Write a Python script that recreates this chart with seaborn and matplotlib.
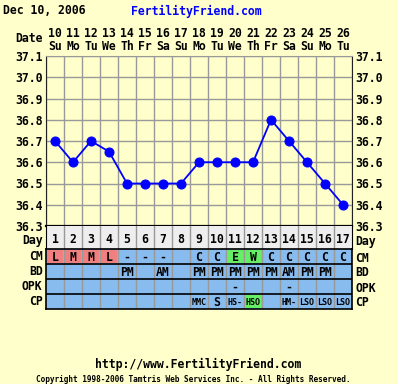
import numpy as np
import matplotlib
matplotlib.use("Agg")
import matplotlib.pyplot as plt
from matplotlib.colors import ListedColormap
import seaborn as sns

# chart data
dates = [10, 11, 12, 13, 14, 15, 16, 17, 18, 19, 20, 21, 22, 23, 24, 25, 26]
weekdays = ["Su", "Mo", "Tu", "We", "Th", "Fr", "Sa", "Su", "Mo",
            "Tu", "We", "Th", "Fr", "Sa", "Su", "Mo", "Tu"]
cycle_days = list(range(1, 18))
temps = [36.7, 36.6, 36.7, 36.65, 36.5, 36.5, 36.5, 36.5, 36.6,
         36.6, 36.6, 36.6, 36.8, 36.7, 36.6, 36.5, 36.4]
temp_ticks = [36.3, 36.4, 36.5, 36.6, 36.7, 36.8, 36.9, 37.0, 37.1]

row_names = ["CM", "BD", "OPK", "CP"]
cm = ["L", "M", "M", "L", "-", "-", "-", "", "C", "C", "E", "W", "C", "C", "C", "C", "C"]
bd = ["", "", "", "", "PM", "", "AM", "", "PM", "PM", "PM", "PM", "PM", "AM", "PM", "PM", ""]
opk = ["", "", "", "", "", "", "", "", "", "", "-", "", "", "-", "", "", ""]
cp = ["", "", "", "", "", "", "", "", "MMC", "S", "HS-", "HSO", "", "HM-", "LSO", "LSO", "LSO"]
# highlight: 0 = plain, 1 = red, 2 = green
cm_flag = [1, 1, 1, 1, 0, 0, 0, 0, 0, 0, 2, 2, 0, 0, 0, 0, 0]
cp_flag = [0, 0, 0, 0, 0, 0, 0, 0, 0, 0, 0, 2, 0, 0, 0, 0, 0]

BG = "#FFFFCC"
BLUE_CELL = "#88BBEE"
RED_CELL = "#F08080"
GREEN_CELL = "#66EE66"
GRID = "#999999"

plt.rcParams["font.family"] = "DejaVu Sans Mono"
plt.rcParams["font.weight"] = "bold"
FS = 8.3

W, H = 398, 384
fig = plt.figure(figsize=(W / 100, H / 100), dpi=100, facecolor=BG)


def fx(px):
    return px / W


def fy(py):
    return 1 - py / H


# temperature chart
ax = fig.add_axes([fx(46), fy(226), fx(306), 170 / H])
ax.set_facecolor(BG)
sns.lineplot(x=cycle_days, y=temps, ax=ax, color="#0000FF", linewidth=1.3,
             marker="o", markersize=6.5, markeredgecolor="#0000FF")
ax.set_xlim(0.5, 17.5)
ax.set_ylim(36.3, 37.1)
ax.set_xticks(np.arange(0.5, 18, 1))
ax.set_xticklabels([])
ax.set_yticks(temp_ticks)
ax.set_yticklabels([f"{t:.1f}" for t in temp_ticks])
ax.grid(True, color=GRID, linewidth=1)
ax.set_axisbelow(True)
ax.tick_params(axis="both", length=0)
ax.tick_params(axis="y", labelright=True, labelsize=FS, pad=2.5)
ax.set_xlabel("")
ax.set_ylabel("")
for side in ["left", "right"]:
    ax.spines[side].set_color("#222222")
ax.spines["top"].set_color(GRID)
ax.spines["bottom"].set_color("black")
ax.spines["bottom"].set_linewidth(1.6)

xt = ax.get_xaxis_transform()
for d, dt, wd in zip(cycle_days, dates, weekdays):
    ax.text(d, 1.135, str(dt), transform=xt, ha="center", va="center", fontsize=FS)
    ax.text(d, 1.058, wd, transform=xt, ha="center", va="center", fontsize=FS)

fig.text(fx(43), fy(39), "Date", ha="right", va="center", fontsize=FS)
fig.text(fx(3), fy(11), "Dec 10, 2006", ha="left", va="center", fontsize=FS)
fig.text(fx(131), fy(11), "FertilityFriend.com", ha="left", va="center",
         fontsize=FS, color="#0000FF")

# cycle day row
ax_day = fig.add_axes([fx(46), fy(249), fx(306), 23 / H])
sns.heatmap(np.zeros((1, 17)), ax=ax_day, cmap=ListedColormap(["#EEEEEE"]),
            cbar=False, xticklabels=False, yticklabels=["Day"])
for x in range(1, 17):
    ax_day.axvline(x, color=GRID, linewidth=1)
for i, d in enumerate(cycle_days):
    ax_day.text(i + 0.5, 0.58, str(d), ha="center", va="center", fontsize=FS)
ax_day.set_yticks([0.62])
ax_day.set_yticklabels(["Day"])
ax_day.tick_params(axis="y", length=0, labelright=True, labelsize=FS, pad=2.5, rotation=0)
for s in ax_day.spines.values():
    s.set_visible(True)
    s.set_color("black")
ax_day.spines["top"].set_visible(False)

# observation table
ax_tab = fig.add_axes([fx(46), fy(309), fx(306), 60 / H])
flags = np.array([cm_flag, [0] * 17, [0] * 17, cp_flag])
sns.heatmap(flags, ax=ax_tab, cmap=ListedColormap([BLUE_CELL, RED_CELL, GREEN_CELL]),
            vmin=-0.5, vmax=2.5, cbar=False, linewidths=1.4, linecolor=BLUE_CELL,
            xticklabels=False, yticklabels=row_names)
for x in range(1, 17):
    ax_tab.axvline(x, color=GRID, linewidth=1)
for y in range(1, 4):
    ax_tab.axhline(y, color="black", linewidth=1.2)
for r, row in enumerate([cm, bd, opk, cp]):
    for c, val in enumerate(row):
        if not val:
            continue
        size = 6 if len(val) == 3 else FS
        ax_tab.text(c + 0.5, r + 0.55, val, ha="center", va="center", fontsize=size)
ax_tab.tick_params(axis="y", length=0, labelright=True, labelsize=FS, pad=2.5, rotation=0)
for s in ax_tab.spines.values():
    s.set_visible(True)
    s.set_color("black")
    s.set_linewidth(1.2)

# footer
fig.text(fx(198), fy(364), "http://www.FertilityFriend.com", ha="center", va="center",
         fontsize=FS)
fig.text(fx(193), fy(379),
         "Copyright 1998-2006 Tamtris Web Services Inc. - All Rights Reserved.",
         ha="center", va="center", fontsize=5.6)

fig.savefig("out.png", dpi=100, facecolor=BG)
